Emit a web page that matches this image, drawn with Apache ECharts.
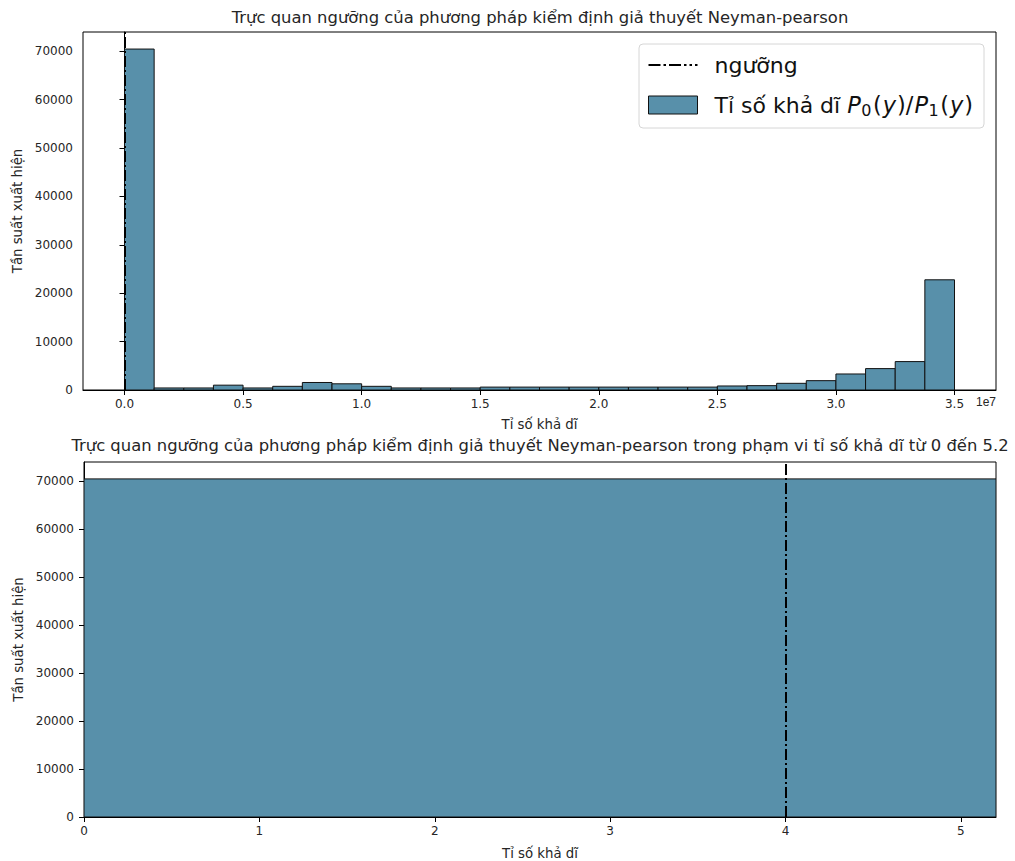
<!DOCTYPE html>
<html><head><meta charset="utf-8">
<script src="https://cdn.jsdelivr.net/npm/echarts@6/dist/echarts.min.js"></script>
<style>html,body{margin:0;padding:0;background:#fff}#c{width:1015px;height:861px}</style>
</head><body><div id="c"></div>
<script>
// ---- data ----
const binStart = 0;
const binWidth = 1.25e6;
const counts = [70450, 420, 420, 1000, 420, 760, 1550, 1280, 760, 420, 420, 420,
  600, 600, 600, 600, 600, 600, 600, 600, 830, 900, 1380, 1930, 3310, 4420, 5870, 22770];
const threshold = 4;
const topXTicks = [0, 5e6, 1e7, 1.5e7, 2e7, 2.5e7, 3e7, 3.5e7];
const topXTickLabels = ['0.0', '0.5', '1.0', '1.5', '2.0', '2.5', '3.0', '3.5'];
const yTicks = [0, 10000, 20000, 30000, 40000, 50000, 60000, 70000];
const bottomXTicks = [0, 1, 2, 3, 4, 5];
const threshName = 'ngưỡng';
const histName = 'Tỉ số khả dĩ P0(y)/P1(y)';
const title1 = 'Trực quan ngưỡng của phương pháp kiểm định giả thuyết Neyman-pearson';
const title2 = 'Trực quan ngưỡng của phương pháp kiểm định giả thuyết Neyman-pearson trong phạm vi tỉ số khả dĩ từ 0 đến 5.2';
const xName = 'Tỉ số khả dĩ';
const yName = 'Tần suất xuất hiện';

// ---- build ----
const histData = counts.map((c, i) => [binStart + i * binWidth, binStart + (i + 1) * binWidth, c]);
const yMax = Math.max(...counts) * 1.05;
const FONT = 'DejaVu Sans';
const TXT = '#262626';
const BAR = '#5890aa';

function renderHist(params, api) {
  const x0 = api.value(0), x1 = api.value(1), h = api.value(2);
  const p0 = api.coord([x0, 0]), p1 = api.coord([x1, h]);
  const rect = {x: p0[0], y: p1[1], width: p1[0] - p0[0], height: p0[1] - p1[1]};
  const cs = params.coordSys;
  const clipped = echarts.graphic.clipRectByRect(rect, {x: cs.x, y: cs.y, width: cs.width, height: cs.height});
  if (!clipped) return;
  return {type: 'rect', shape: clipped, style: {fill: BAR, stroke: '#111', lineWidth: 1}};
}

function xAxisCfg(gi, min, max, ticks, fmt, gap) {
  return {
    type: 'value', gridIndex: gi, min: min, max: max,
    splitLine: {show: false},
    axisLine: {show: true, onZero: false, lineStyle: {color: '#000', width: 1}},
    axisTick: {show: true, customValues: ticks, length: 5, lineStyle: {color: '#000', width: 1}},
    axisLabel: {customValues: ticks, formatter: fmt, margin: 8, fontSize: 12, color: TXT, fontFamily: FONT},
    name: xName, nameLocation: 'middle', nameGap: gap,
    nameTextStyle: {fontSize: 13.3, color: TXT, fontFamily: FONT}
  };
}
function yAxisCfg(gi) {
  return {
    type: 'value', gridIndex: gi, min: 0, max: yMax,
    splitLine: {show: false},
    axisLine: {show: true, lineStyle: {color: '#000', width: 1}},
    axisTick: {show: true, customValues: yTicks, length: 5, lineStyle: {color: '#000', width: 1}},
    axisLabel: {customValues: yTicks, formatter: v => String(Math.round(v)), margin: 10, fontSize: 12, color: TXT, fontFamily: FONT},
    name: yName, nameLocation: 'middle', nameGap: 56, nameRotate: 90,
    nameTextStyle: {fontSize: 13.3, color: TXT, fontFamily: FONT}
  };
}

const dashDot = [11, 3, 2, 3];
const dashDotIcon = 'path://M0,0h12v2h-12z M15,0h2.5v2h-2.5z M20.5,0h12v2h-12z M35.5,0h2.5v2h-2.5z M41,0h2.5v2h-2.5z M46.5,0h2.5v2h-2.5z';

const option = {
  animation: false,
  backgroundColor: '#fff',
  title: [
    {text: title1, left: 540, textAlign: 'center', top: 9, padding: 0,
     textStyle: {fontSize: 16.4, fontWeight: 'normal', color: TXT, fontFamily: FONT}},
    {text: title2, left: 540, textAlign: 'center', top: 437, padding: 0,
     textStyle: {fontSize: 16.4, fontWeight: 'normal', color: TXT, fontFamily: FONT}}
  ],
  grid: [
    {left: 83, right: 19, top: 32, bottom: 471, show: true, borderColor: '#000', borderWidth: 1, containLabel: false},
    {left: 84, right: 19, top: 462, bottom: 43, show: true, borderColor: '#000', borderWidth: 1, containLabel: false}
  ],
  xAxis: [
    xAxisCfg(0, -1.75e6, 3.675e7, topXTicks, v => {
      const i = topXTicks.findIndex(t => Math.abs(t - v) < 1);
      return i >= 0 ? topXTickLabels[i] : '';
    }, 28),
    xAxisCfg(1, 0, 5.2, bottomXTicks, v => String(Math.round(v)), 30)
  ],
  yAxis: [yAxisCfg(0), yAxisCfg(1)],
  legend: {
    orient: 'vertical', left: 639, top: 44,
    padding: [8, 10, 10, 9], itemGap: 14,
    itemWidth: 49, itemHeight: 18,
    borderColor: '#d6d6d6', borderWidth: 1, borderRadius: 4,
    backgroundColor: 'rgba(255,255,255,0.8)',
    data: [
      {name: threshName, icon: dashDotIcon, itemStyle: {color: '#000', borderWidth: 0}},
      {name: histName, icon: 'rect', itemStyle: {color: BAR, borderColor: '#111', borderWidth: 1}}
    ],
    formatter: function (name) {
      if (name === histName) return 'Tỉ số khả dĩ {i|P}{s|0}{n|(}{i|y}{n|)/}{i|P}{s|1}{n|(}{i|y}{n|)}';
      return name;
    },
    textStyle: {
      fontSize: 22, color: '#111', fontFamily: FONT, padding: [0, 0, 0, 12], lineHeight: 26,
      rich: {
        i: {fontSize: 22.5, fontStyle: 'italic', fontFamily: FONT, color: '#111', lineHeight: 26},
        n: {fontSize: 22.5, fontFamily: FONT, color: '#111', lineHeight: 26, padding: [0, 1, 0, 1]},
        s: {fontSize: 16, fontFamily: FONT, color: '#111', verticalAlign: 'bottom', lineHeight: 20, padding: [8, 0.5, 0, 0.5]}
      }
    }
  },
  graphic: [
    {type: 'text', right: 19, top: 396, style: {text: '1e7', fontSize: 12, fill: TXT, font: '12px "DejaVu Sans"'}}
  ],
  series: [
    {type: 'custom', name: histName, xAxisIndex: 0, yAxisIndex: 0, renderItem: renderHist,
     data: histData, encode: {x: [0, 1], y: 2}, clip: true, itemStyle: {color: BAR}, z: 2},
    {type: 'custom', name: histName, xAxisIndex: 1, yAxisIndex: 1, renderItem: renderHist,
     data: histData, encode: {x: [0, 1], y: 2}, clip: true, itemStyle: {color: BAR}, z: 2},
    {type: 'line', name: threshName, xAxisIndex: 0, yAxisIndex: 0, data: [], symbol: 'none', showSymbol: false,
     lineStyle: {color: '#000', width: 2, type: dashDot}, itemStyle: {color: '#000'}, z: 5,
     markLine: {silent: true, symbol: ['none', 'none'], label: {show: false},
       lineStyle: {color: '#000', width: 2, type: dashDot}, data: [{xAxis: threshold}]}},
    {type: 'line', name: threshName, xAxisIndex: 1, yAxisIndex: 1, data: [], symbol: 'none', showSymbol: false,
     lineStyle: {color: '#000', width: 2, type: dashDot}, itemStyle: {color: '#000'}, z: 5,
     markLine: {silent: true, symbol: ['none', 'none'], label: {show: false},
       lineStyle: {color: '#000', width: 2, type: dashDot}, data: [{xAxis: threshold}]}}
  ]
};

const chart = echarts.init(document.getElementById('c'), null, {renderer: 'svg', width: 1015, height: 861});
chart.setOption(option);
</script>
</body></html>
